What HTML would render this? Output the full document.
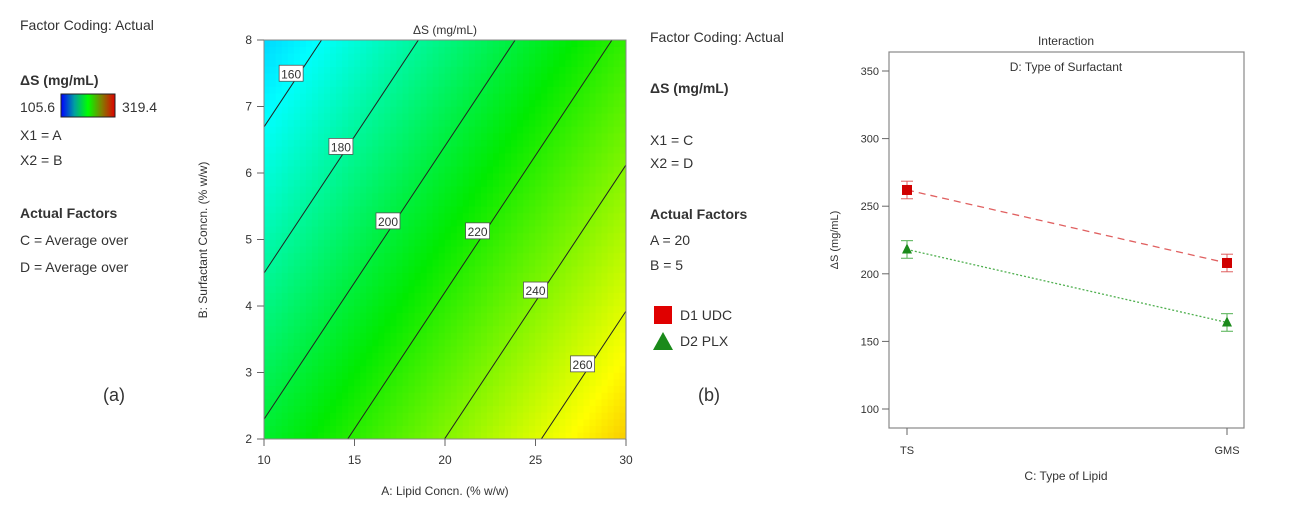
<!DOCTYPE html>
<html><head><meta charset="utf-8"><style>
html,body{margin:0;width:1290px;height:507px;background:#fff;overflow:hidden;font-family:"Liberation Sans",sans-serif;}
svg{position:absolute;left:0;top:0;overflow:hidden}
text{font-family:"Liberation Sans",sans-serif;fill:#333}
</style></head><body>
<svg id="s" width="1290" height="507">
<defs>
<linearGradient id="cb" x1="0" x2="1" y1="0" y2="0">
<stop offset="0" stop-color="#0000ff"/><stop offset="0.25" stop-color="#00a0a0"/><stop offset="0.5" stop-color="#00ff00"/><stop offset="0.75" stop-color="#808000"/><stop offset="1" stop-color="#e00000"/>
</linearGradient>
<clipPath id="cp"><rect x="264" y="40" width="362" height="399"/></clipPath>
</defs>
<g font-size="14">
<text x="20" y="30">Factor Coding: Actual</text>
<text x="20" y="85" font-weight="bold" fill="#222">ΔS (mg/mL)</text>
<text x="20" y="112" fill="#3b3bd0">105.6</text>
<rect x="61" y="94" width="54" height="23" fill="url(#cb)" stroke="#222"/>
<text x="122" y="112" fill="#d03030">319.4</text>
<text x="20" y="140">X1 = A</text>
<text x="20" y="165">X2 = B</text>
<text x="20" y="218" font-weight="bold" fill="#222">Actual Factors</text>
<text x="20" y="245">C = Average over</text>
<text x="20" y="272">D = Average over</text>
<text x="103" y="401" font-size="18" fill="#222">(a)</text>
</g>
<g id="contour"></g>
<g font-size="14">
<text x="650" y="42">Factor Coding: Actual</text>
<text x="650" y="93" font-weight="bold" fill="#222">ΔS (mg/mL)</text>
<text x="650" y="145">X1 = C</text>
<text x="650" y="168">X2 = D</text>
<text x="650" y="219" font-weight="bold" fill="#222">Actual Factors</text>
<text x="650" y="245">A = 20</text>
<text x="650" y="270">B = 5</text>
<rect x="654" y="306" width="18" height="18" fill="#e00000"/>
<text x="680" y="320" fill="#d03030">D1 UDC</text>
<polygon points="663,332 673,350 653,350" fill="#1a8a1a"/>
<text x="680" y="346" fill="#2a9a2a">D2 PLX</text>
<text x="698" y="401" font-size="18" fill="#222">(b)</text>
</g>
<g id="inter"></g>
</svg>
<script>
const NS="http://www.w3.org/2000/svg";
function mk(p,t,a,txt){const e=document.createElementNS(NS,t);for(const k in a)e.setAttribute(k,a[k]);if(txt!==undefined)e.textContent=txt;p.appendChild(e);return e;}
// ---- contour data ----
const xTicks=[10,15,20,25,30];
const yTicks=[2,3,4,5,6,7,8];
const levels=[160,180,200,220,240,260];
const labelA=[11.5,14.25,16.85,21.8,25.0,27.6];
const labelB=[7.5,6.4,5.28,5.13,4.24,3.13];
const modelCoef=[202.7,3.74,-9.1]; // value at A=10,B=2; slope A; slope B
const colorRange=[105.6,319.4];
const cg=document.getElementById('contour');
const X=a=>264+(a-10)/20*362, Y=b=>439-(b-2)/6*399;
const f=(a,b)=>modelCoef[0]+modelCoef[1]*(a-10)+modelCoef[2]*(b-2);
function cmap(v){let t=(v-colorRange[0])/(colorRange[1]-colorRange[0]);t=Math.max(0,Math.min(1,t));
const st=[[0,[0,60,255]],[0.25,[0,255,255]],[0.5,[0,235,0]],[0.75,[255,255,0]],[1,[230,20,0]]];
for(let i=0;i<4;i++){if(t<=st[i+1][0]){const u=(t-st[i][0])/(st[i+1][0]-st[i][0]);return 'rgb('+st[i][1].map((c,j)=>Math.round(c+(st[i+1][1][j]-c)*u)).join(',')+')';}}}
const fillG=mk(cg,'g',{'clip-path':'url(#cp)'});


const N=60;
for(let i=0;i<N;i++)for(let j=0;j<N;j++){const a=10+20*(i+0.5)/N,b=2+6*(j+0.5)/N;
mk(fillG,'rect',{x:X(10+20*i/N)-0.3,y:Y(2+6*(j+1)/N)-0.3,width:362/N+0.6,height:399/N+0.6,fill:cmap(f(a,b))});}
levels.forEach((lv,k)=>{
 const bAt=a=>2+(lv-modelCoef[0]-modelCoef[1]*(a-10))/modelCoef[2];
 const l=mk(cg,'line',{x1:X(10),y1:Y(bAt(10)),x2:X(30),y2:Y(bAt(30)),stroke:'#222','stroke-width':1,'clip-path':'url(#cp)'});
 
 
 const la=labelA[k];const lb=labelB[k];
 const g=mk(cg,'g',{});
 
 
 mk(g,'rect',{x:X(la)-12,y:Y(lb)-8,width:24,height:16,fill:'#fff',stroke:'#555','stroke-width':0.8});
 mk(g,'text',{x:X(la),y:Y(lb)+5,'text-anchor':'middle','font-size':12},lv);
});
mk(cg,'rect',{x:264,y:40,width:362,height:399,fill:'none',stroke:'#888'});
xTicks.forEach(t=>{mk(cg,'line',{x1:X(t),x2:X(t),y1:439,y2:446,stroke:'#666'});
 const e=mk(cg,'text',{x:X(t),y:464,'text-anchor':'middle','font-size':12},t);
 });
yTicks.forEach(t=>{mk(cg,'line',{x1:257,x2:264,y1:Y(t),y2:Y(t),stroke:'#666'});
 const e=mk(cg,'text',{x:252,y:Y(t)+4,'text-anchor':'end','font-size':12},t);
 });
let t1=mk(cg,'text',{x:445,y:34,'text-anchor':'middle','font-size':12},'ΔS (mg/mL)');

let t2=mk(cg,'text',{x:445,y:495,'text-anchor':'middle','font-size':12},'A: Lipid Concn. (% w/w)');

let t3=mk(cg,'text',{x:207,y:240,'text-anchor':'middle','font-size':12,transform:'rotate(-90 207 240)'},'B: Surfactant Concn. (% w/w)');


// ---- interaction plot data ----
const cats=['TS','GMS'];
const udc=[262,208];
const plx=[218,164];
const errHalf=[6.5,6.5];
const iTicks=[100,150,200,250,300,350];
const ig=document.getElementById('inter');
const IX=i=>907+i*320, IY=v=>409-(v-100)/250*338;
mk(ig,'rect',{x:889,y:52,width:355,height:376,fill:'none',stroke:'#888','stroke-width':1.2});
iTicks.forEach(t=>{mk(ig,'line',{x1:882,x2:889,y1:IY(t),y2:IY(t),stroke:'#666'});
 const e=mk(ig,'text',{x:879,y:IY(t)+4,'text-anchor':'end','font-size':11},t);
 });
cats.forEach((c,i)=>{mk(ig,'line',{x1:IX(i),x2:IX(i),y1:428,y2:435,stroke:'#666'});
 const e=mk(ig,'text',{x:IX(i),y:454,'text-anchor':'middle','font-size':11},c);
 });
[[udc,'#e06060','7,5','d1-udc','#d00000'],[plx,'#50b050','2,2','d2-plx','#1a8a1a']].forEach(([vals,col,dash,nm,mc])=>{
 const l=mk(ig,'line',{x1:IX(0),y1:IY(vals[0]),x2:IX(1),y2:IY(vals[1]),stroke:col,'stroke-width':1.3,'stroke-dasharray':dash});
 
 vals.forEach((v,i)=>{const x=IX(i);
  const hi=IY(v+errHalf[i]),lo=IY(v-errHalf[i]);
  mk(ig,'line',{x1:x,x2:x,y1:hi,y2:lo,stroke:col});
  mk(ig,'line',{x1:x-6,x2:x+6,y1:hi,y2:hi,stroke:col});
  mk(ig,'line',{x1:x-6,x2:x+6,y1:lo,y2:lo,stroke:col});
  let m;
  if(nm==='d1-udc') m=mk(ig,'rect',{x:x-5,y:IY(v)-5,width:10,height:10,fill:mc});
  else m=mk(ig,'polygon',{points:`${x},${IY(v)-6} ${x+5},${IY(v)+4} ${x-5},${IY(v)+4}`,fill:mc});
  
  
 });
});
let i1=mk(ig,'text',{x:1066,y:45,'text-anchor':'middle','font-size':12},'Interaction');

let i2=mk(ig,'text',{x:1066,y:71,'text-anchor':'middle','font-size':12},'D: Type of Surfactant');

let i3=mk(ig,'text',{x:1066,y:480,'text-anchor':'middle','font-size':12},'C: Type of Lipid');

let i4=mk(ig,'text',{x:838,y:240,'text-anchor':'middle','font-size':11,transform:'rotate(-90 838 240)'},'ΔS (mg/mL)');

</script>
</body></html>
